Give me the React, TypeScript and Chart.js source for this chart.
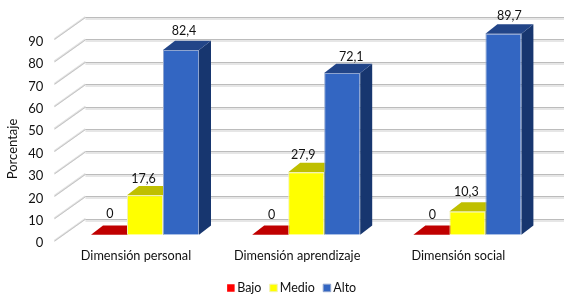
import React, { useEffect, useRef } from "react";
import { Chart, registerables } from "chart.js";

Chart.register(...registerables);

const categories = ["Dimensión personal", "Dimensión aprendizaje", "Dimensión social"];
const bajo = [0, 0, 0];
const medio = [17.6, 27.9, 10.3];
const alto = [82.4, 72.1, 89.7];
const yTicks = [0, 10, 20, 30, 40, 50, 60, 70, 80, 90];
const axisTitle = "Porcentaje";

const FONT = "Lato";
const BAR_DX = 12;
const BAR_DY = 9.3;
const WALL_DX = 31;
const WALL_DY = 16;
const FLOOR_DX = 10;
const FLOOR_DY = 6;
const LEGEND_LEFT = 39;

const faceColours = [
  { top: "#c00000", side: "#800000" },
  { top: "#bfbf00", side: "#808000" },
  { top: "#224588", side: "#17366f" },
];

// label nudges per dataset / category, in the picture the labels sit a little off-centre
const labelNudge = [
  [[1, -21], [1.5, -19.5], [1, -19.5]],
  [[-1.5, -16], [-3, -17.7], [-1, -19.6]],
  [[3, -18.7], [9, -16.3], [6, -18]],
];

const fmt = (v: number) => String(v).replace(".", ",");

const threeD = {
  id: "threeD",
  afterLayout(chart: any) {
    chart.legend.left = LEGEND_LEFT;
  },
  beforeDatasetsDraw(chart: any) {
    const { ctx, chartArea, scales } = chart;
    const y = scales.y;
    const left = chartArea.left - FLOOR_DX;
    const backRight = 564;
    ctx.save();
    for (const t of yTicks) {
      const py = y.getPixelForValue(t);
      const fx = left;
      const fy = py + FLOOR_DY;
      const bx = left + WALL_DX;
      const by = py - WALL_DY;
      ctx.lineWidth = 2;
      ctx.strokeStyle = "#e3e3e3";
      ctx.beginPath();
      ctx.moveTo(fx, fy);
      ctx.lineTo(bx, by);
      ctx.stroke();
      ctx.lineWidth = 1;
      ctx.strokeStyle = "#c4c4c4";
      ctx.beginPath();
      ctx.moveTo(fx, fy + 0.5);
      ctx.lineTo(bx, by + 0.5);
      ctx.stroke();
      ctx.fillStyle = "#e6e6e6";
      ctx.fillRect(bx, Math.round(by) + 1, backRight - bx, 2);
      ctx.fillStyle = "#bcbcbc";
      ctx.fillRect(bx, Math.round(by), backRight - bx, 1);
    }
    chart.data.datasets.forEach((_: any, i: number) => {
      chart.getDatasetMeta(i).data.forEach((bar: any) => {
        const hw = bar.width / 2;
        const x0 = bar.x - hw;
        const x1 = bar.x + hw;
        const yt = bar.y;
        const yb = bar.base;
        ctx.fillStyle = faceColours[i].side;
        ctx.beginPath();
        ctx.moveTo(x1, yt);
        ctx.lineTo(x1 + BAR_DX, yt - BAR_DY);
        ctx.lineTo(x1 + BAR_DX, yb - BAR_DY);
        ctx.lineTo(x1, yb);
        ctx.closePath();
        ctx.fill();
        ctx.fillStyle = faceColours[i].top;
        ctx.beginPath();
        ctx.moveTo(x0, yt);
        ctx.lineTo(x0 + BAR_DX, yt - BAR_DY);
        ctx.lineTo(x1 + BAR_DX, yt - BAR_DY);
        ctx.lineTo(x1, yt);
        ctx.closePath();
        ctx.fill();
      });
    });
    ctx.restore();
  },
  afterDatasetsDraw(chart: any) {
    const { ctx } = chart;
    ctx.save();
    ctx.font = `12.5px ${FONT}`;
    ctx.fillStyle = "#111";
    ctx.textAlign = "center";
    ctx.textBaseline = "middle";
    chart.data.datasets.forEach((ds: any, i: number) => {
      chart.getDatasetMeta(i).data.forEach((bar: any, j: number) => {
        const [nx, ny] = labelNudge[i][j];
        ctx.fillText(fmt(ds.data[j]), bar.x + nx, bar.y + ny);
      });
    });
    ctx.font = `13px ${FONT}`;
    ctx.translate(12.5, 149);
    ctx.rotate(-Math.PI / 2);
    ctx.fillText(axisTitle, 0, 0);
    ctx.restore();
  },
};

export default function App() {
  const ref = useRef<HTMLCanvasElement>(null);
  useEffect(() => {
    const chart = new Chart(ref.current!, {
      type: "bar",
      data: {
        labels: categories,
        datasets: [
          { label: "Bajo", data: bajo, backgroundColor: "#ff0000", borderColor: "rgba(0,0,0,0)", borderWidth: 0, pointStyle: "rect" },
          { label: "Medio", data: medio, backgroundColor: "#ffff00", borderColor: "#f2f2b0", borderWidth: 1, pointStyle: "rect" },
          { label: "Alto", data: alto, backgroundColor: "#3366c2", borderColor: "#8ea4cf", borderWidth: 1, pointStyle: "rect" },
        ],
      },
      plugins: [threeD],
      options: {
        responsive: false,
        animation: false,
        layout: { padding: { left: 17, right: 19, top: 33, bottom: -6.2 } },
        datasets: { bar: { categoryPercentage: 0.67, barPercentage: 1 } },
        scales: {
          x: {
            grid: { display: false },
            border: { display: false },
            ticks: {
              color: "#111",
              font: { family: FONT, size: 12.7 },
              labelOffset: -9,
              padding: 5.5,
              maxRotation: 0,
            },
            afterFit: (s: any) => { s.height = 35; },
          },
          y: {
            min: 0,
            max: 90,
            grid: { display: false },
            border: { display: false },
            afterBuildTicks: (s: any) => { s.ticks = yTicks.map((value) => ({ value })); },
            ticks: {
              color: "#111",
              font: { family: FONT, size: 13 },
              labelOffset: 8.5,
              padding: 13,
            },
            afterFit: (s: any) => { s.width = 47.4; },
          },
        },
        plugins: {
          tooltip: { enabled: false },
          legend: {
            position: "bottom",
            labels: {
              color: "#111",
              font: { family: FONT, size: 12.5 },
              usePointStyle: true,
              boxWidth: 0.1,
              boxHeight: 7.5,
              padding: 12,
            },
          },
        },
      },
    });
    return () => chart.destroy();
  }, []);
  return (
    <div style={{ position: "fixed", left: 0, top: 0, width: 567, height: 298, background: "#fff" }}>
      <canvas ref={ref} width={567} height={298} style={{ display: "block" }} />
    </div>
  );
}
